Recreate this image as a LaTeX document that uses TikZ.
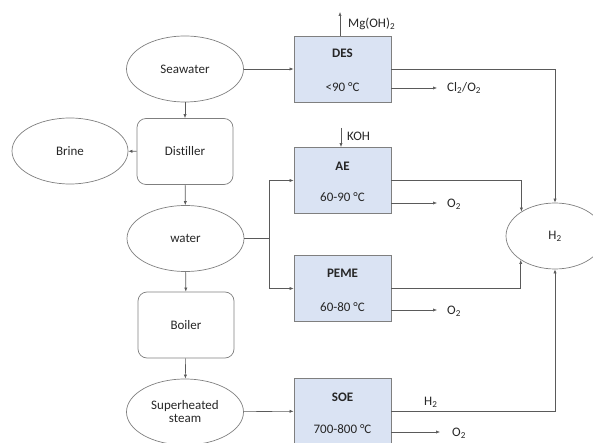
\documentclass[tikz,border=0pt]{standalone}
\usepackage{fontspec}
\setmainfont{Carlito}[Ligatures=NoCommon]
\usetikzlibrary{shapes.geometric,arrows.meta}
\definecolor{boxfill}{HTML}{DAE3F3}
\definecolor{edgegray}{HTML}{7F7F7F}
\definecolor{linegray}{HTML}{5A5A5A}
\definecolor{txt}{HTML}{262626}
\begin{document}
\begin{tikzpicture}[x=1pt,y=-1pt,
  every node/.style={font=\fontsize{13}{15}\selectfont, text=txt},
  oval/.style={ellipse, draw=edgegray, line width=0.7pt, inner sep=0pt, minimum width=117pt, minimum height=66pt, align=center},
  unit/.style={rectangle, rounded corners=9pt, draw=edgegray, line width=0.7pt, inner sep=0pt, minimum width=96pt, minimum height=66pt},
  cell/.style={rectangle, draw=edgegray, fill=boxfill, line width=0.8pt, inner sep=0pt, minimum width=97pt, minimum height=66pt},
  conn/.style={draw=linegray, line width=0.6pt, -{Latex[length=4pt,width=3.2pt]}},
  plain/.style={draw=linegray, line width=0.6pt},
  lbl/.style={anchor=west, inner sep=0pt}]
\useasboundingbox (0,0) rectangle (593,443);
% left column
\node[oval] (sea) at (185,69) {Seawater};
\node[unit] (dist) at (185,151.5) {Distiller};
\node[oval, minimum width=116pt] (brine) at (70,151) {Brine};
\node[oval] (water) at (185.5,238.5) {water};
\node[unit] (boil) at (186,325) {Boiler};
\node[oval] (steam) at (185,412) {Superheated\\[-2pt]steam};
% process cells
\node[cell] (des) at (342.5,69) {};
\node[cell] (ae) at (342.5,180.5) {};
\node[cell] (peme) at (342.5,288.5) {};
\node[cell] (soe) at (342.5,411) {};
\node (desT) at ([yshift=16pt]des.center) {\textbf{DES}};
\node (desC) at ([yshift=-18pt]des.center) {<90 °C};
\node (aeT) at ([yshift=14.5pt]ae.center) {\textbf{AE}};
\node (aeC) at ([yshift=-16.5pt]ae.center) {60-90 °C};
\node (pemeT) at ([yshift=15.5pt]peme.center) {\textbf{PEME}};
\node (pemeC) at ([yshift=-18.5pt]peme.center) {60-80 °C};
\node (soeT) at ([yshift=14pt]soe.center) {\textbf{SOE}};
\node (soeC) at ([yshift=-18pt]soe.center) {700-800 °C};
% hydrogen
\node[oval, minimum width=98pt] (h2) at (555,236) {H\textsubscript{2}};
% left column flow
\draw[conn] (sea) -- (dist);
\draw[conn] (dist) -- (brine);
\draw[conn] (dist) -- (water);
\draw[conn] (water) -- (boil);
\draw[conn] (boil) -- (steam);
\draw[conn] (sea) -- (des);
\draw[conn] (steam) -- (soe);
% splitter
\coordinate (split) at (269,238.5);
\draw[plain] (water.east) -- (split);
\draw[conn] (split) |- (ae.west);
\draw[conn] (split) |- (peme.west);
% DES side streams
\coordinate (mgTop) at (340,12);
\draw[conn] (des.north -| mgTop) -- (mgTop);
\node[lbl] (mg) at (348,24) {Mg(OH)\textsubscript{2}};
\coordinate (desO) at (391,88);
\coordinate (desOe) at (437,88);
\draw[conn] (desO) -- (desOe);
\node[lbl] (cl) at (447,88) {Cl\textsubscript{2}/O\textsubscript{2}};
% KOH
\coordinate (kohTop) at (341,128);
\draw[conn] (kohTop) -- (kohTop |- ae.north);
\node[lbl] (koh) at (347,136) {KOH};
% O2 outputs
\coordinate (aeO) at (391,203);
\coordinate (aeOe) at (437,203);
\draw[conn] (aeO) -- (aeOe);
\node[lbl] (aeo2) at (447,204) {O\textsubscript{2}};
\coordinate (pemeO) at (391,310);
\coordinate (pemeOe) at (437,310);
\draw[conn] (pemeO) -- (pemeOe);
\node[lbl] (pemeo2) at (447,311) {O\textsubscript{2}};
\coordinate (soeO) at (391,432);
\coordinate (soeOe) at (440,432);
\draw[conn] (soeO) -- (soeOe);
\node[lbl] (soeo2) at (452,433) {O\textsubscript{2}};
% H2 feeds
\draw[conn] (des.east) -| (h2.north);
\draw[conn] (ae.east) -| (h2.144.8);
\draw[conn] (peme.east) -| (h2.215.2);
\draw[conn] (soe.east) -| (h2.south);
\node[lbl] (soeh2) at (424,402) {H\textsubscript{2}};
\end{tikzpicture}
\end{document}
